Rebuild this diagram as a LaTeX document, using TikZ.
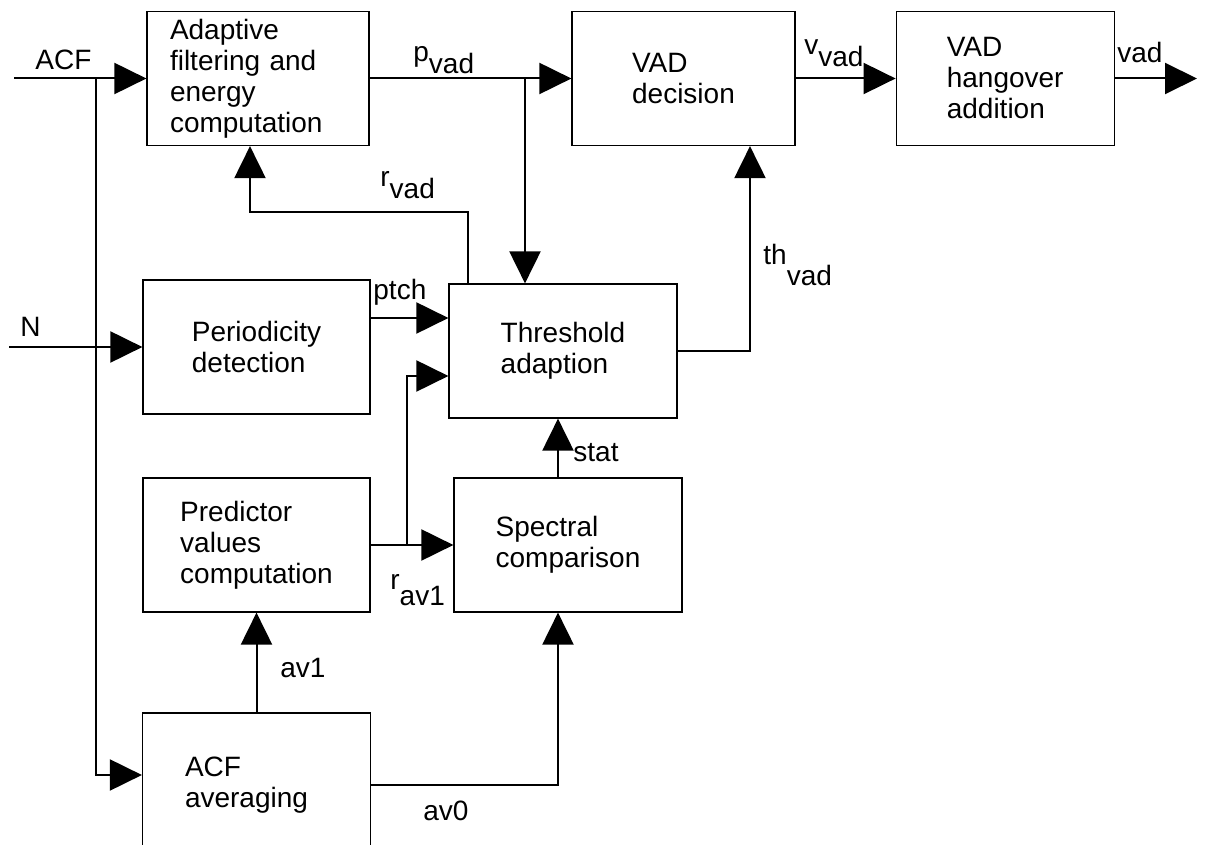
\documentclass[tikz,border=0pt]{standalone}
\usepackage{fontspec}
\setmainfont{Liberation Sans}
\usetikzlibrary{arrows.meta}
\usetikzlibrary{positioning}
\newcommand*{\sig}[3][0.4em]{#2\raisebox{-#1}{#3}}
\tikzset{
    block/.style = {draw,line width=0.6pt,align=left,minimum width=114pt,minimum height=67pt,inner sep=0},
    sigline/.style = {line width=1pt,-{Triangle[length=16pt,width=15.5pt]}},
    lbl/.style = {anchor=base west,inner sep=0}
}

\begin{document}
\begin{tikzpicture}[x=0.5pt,y=-0.5pt,font=\fontsize{14}{15.5}\selectfont]
        \useasboundingbox (0,0) rectangle (1223,845);
        % Blocks
        \node[block,minimum width=111pt,text width=88pt] (adapt) at (258,78.5) {Adaptive\\filtering and\\energy\\computation};
        \node[block,minimum width=111.5pt] (vad) at (683.5,78.5) {VAD\\decision};
        \node[block,minimum width=109pt,right=50pt of vad] (hang) {VAD\\hangover\\addition};
        \node[block,minimum width=113.5pt] (peri) at (256.5,347) {Periodicity\\detection};
        \node[block] (thresh) at (563,351) {Threshold\\adaption};
        \node[block,minimum width=113.5pt] (pred) at (256.5,545) {Predictor\\values\\computation};
        \node[block] (spec) at (568,545) {Spectral\\comparison};
        \node[block,minimum height=72pt,text width=71.5pt] (avg) at (256.5,785) {ACF\\averaging};
        % Inputs
        \coordinate (acfin) at (14,78.5);
        \coordinate (nin) at (9,347);
        \coordinate (trunk) at (96,78.5);
        \draw[sigline] (acfin) -- (adapt.west);
        \draw[sigline] (nin) -- (peri.west);
        \draw[sigline] (trunk) |- ([yshift=5pt]avg.west);
        % Top row
        \coordinate (pjoin) at (525,78.5);
        \coordinate (vadout) at (1197,78.5);
        \draw[sigline] (adapt) -- (vad);
        \draw[sigline] (pjoin) -- (pjoin |- thresh.north);
        \draw[sigline] (vad) -- (hang);
        \draw[sigline] (hang) -- (vadout);
        % Feedback
        \coordinate (rturn) at (468,212);
        \coordinate (rend) at (250,145);
        \draw[sigline] (rturn |- thresh.north) -- (rturn) -| (rend |- adapt.south);
        % Middle and bottom
        \coordinate (ptchy) at (0,318);
        \coordinate (ravy) at (0,376);
        \coordinate (rjoin) at (407,545);
        \coordinate (statx) at (558,0);
        \coordinate (thx) at (750,0);
        \draw[sigline] (peri.east |- ptchy) -- (thresh.west |- ptchy);
        \draw[sigline] (rjoin) |- (thresh.west |- ravy);
        \draw[sigline] (pred) -- (spec);
        \draw[sigline] (statx |- spec.north) -- (statx |- thresh.south);
        \draw[sigline] (avg) -- (pred);
        \draw[sigline] (avg.east) -| (statx |- spec.south);
        \draw[sigline] (thresh.east) -| (thx |- vad.south);
        % Labels
        \node[lbl] (acflbl) at (35,70) {ACF};
        \node[lbl] (nlbl) at (20,337) {N};
        \node[lbl] (pvad) at (413,62) {\sig{p}{vad}};
        \node[lbl] (rvad) at (380,187) {\sig{r}{vad}};
        \node[lbl] (ptch) at (373,300) {ptch};
        \node[lbl] (thvad) at (763,265) {\sig[0.72em]{th}{vad}};
        \node[lbl] (vvad) at (804,55) {\sig{v}{vad}};
        \node[lbl] (vadlbl) at (1117,63) {vad};
        \node[lbl] (stat) at (573,462) {stat};
        \node[lbl] (rav1) at (390,590) {\sig[0.55em]{r}{av1}};
        \node[lbl] (av1) at (280,677) {av1};
        \node[lbl] (av0) at (423,820) {av0};
    \end{tikzpicture}
\end{document}
